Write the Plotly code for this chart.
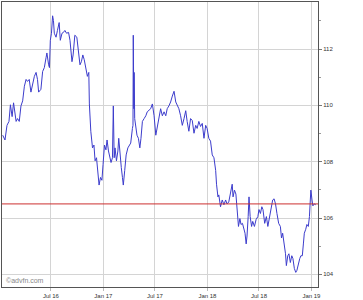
import pandas as pd
import plotly.graph_objects as go

# Data: days since 2016-01-01 and price
start_date = "2016-01-01"
days = [13, 21, 28, 35, 40, 46, 51, 56, 60, 65, 71, 77, 83, 89, 95, 100, 106, 112, 118, 124,
        130, 135, 139, 147, 153, 159, 165, 168, 174, 177, 180, 184, 188, 191, 194, 200, 205, 211, 215, 221,
        226, 231, 237, 244, 249, 252, 256, 260, 266, 273, 278, 284, 289, 294, 299, 305, 310, 315, 317, 322,
        328, 333, 337, 342, 347, 351, 356, 361, 365, 370, 375, 379, 384, 389, 393, 398, 401, 404, 407, 412,
        417, 420, 425, 429, 433, 436, 441, 446, 452, 456, 462, 468, 470, 471, 473, 474, 476, 480, 484, 489,
        494, 498, 503, 509, 515, 520, 526, 532, 538, 544, 550, 555, 561, 567, 573, 579, 585, 590, 596, 602,
        608, 614, 620, 625, 631, 637, 643, 649, 655, 660, 666, 672, 678, 684, 690, 695, 701, 707, 713, 719,
        725, 730, 736, 742, 748, 754, 760, 763, 768, 771, 777, 783, 789, 795, 800, 806, 812, 818, 821, 826,
        831, 835, 840, 845, 849, 854, 859, 863, 867, 870, 874, 877, 881, 886, 890, 896, 902, 908, 912, 917,
        922, 926, 932, 938, 943, 949, 954, 960, 965, 970, 975, 981, 987, 991, 995, 1000, 1005, 1008, 1013, 1017,
        1022, 1027, 1031, 1036, 1041, 1045, 1050, 1055, 1059, 1064, 1068, 1071, 1076, 1080, 1085, 1089, 1092, 1094, 1098, 1101,
        1106, 1111]
prices = [108.94, 108.77, 109.29, 109.43, 110.02, 109.60, 110.09, 109.77, 109.43, 109.53,
          109.43, 109.98, 110.16, 110.68, 110.92, 110.85, 110.92, 110.47, 110.75, 111.03,
          111.17, 110.92, 110.47, 110.57, 111.20, 111.34, 111.69, 111.86, 111.44, 111.34,
          112.31, 112.56, 113.18, 113.01, 112.56, 112.42, 112.66, 112.94, 112.31, 112.56,
          112.59, 112.66, 112.56, 112.59, 112.31, 112.07, 111.55, 111.79, 112.49, 112.42,
          111.97, 111.44, 111.55, 111.79, 111.62, 111.20, 111.03, 111.17, 110.05, 109.08,
          108.49, 108.59, 108.03, 108.14, 107.55, 107.17, 107.44, 107.34, 107.90, 108.59,
          108.42, 108.77, 108.38, 108.07, 107.97, 108.14, 109.98, 108.14, 108.49, 108.03,
          108.38, 108.83, 108.14, 107.79, 107.44, 107.17, 107.69, 108.24, 108.49, 108.56,
          108.66, 109.18, 109.29, 112.49, 109.88, 111.17, 109.53, 109.29, 108.94, 108.83,
          108.49, 108.83, 109.43, 109.53, 109.63, 109.77, 109.81, 109.88, 110.05, 109.63,
          108.94, 109.18, 109.53, 109.88, 109.63, 109.77, 109.63, 109.88, 109.98, 110.12,
          110.33, 110.50, 110.12, 109.98, 109.88, 109.63, 109.29, 109.53, 109.81, 109.43,
          109.08, 109.53, 109.46, 109.01, 109.29, 109.18, 109.43, 109.25, 109.36, 108.83,
          109.29, 109.18, 108.83, 108.73, 108.24, 108.14, 107.69, 107.20, 106.75, 106.82,
          106.40, 106.64, 106.47, 106.64, 106.50, 106.57, 106.92, 107.20, 106.75, 106.99,
          106.85, 106.40, 105.70, 105.98, 105.77, 105.81, 105.60, 105.46, 105.08, 105.36,
          106.05, 106.75, 106.05, 105.70, 105.88, 105.70, 105.95, 106.05, 106.30, 106.16,
          106.40, 106.30, 105.81, 106.05, 105.70, 106.05, 106.30, 106.64, 106.68, 106.50,
          106.16, 105.81, 105.70, 105.29, 105.46, 105.11, 104.73, 104.31, 104.66, 104.73,
          104.42, 104.66, 104.56, 104.21, 104.07, 104.14, 104.42, 104.56, 104.66, 104.66,
          105.11, 105.46, 105.60, 105.77, 105.70, 106.05, 106.64, 106.99, 106.64, 106.43,
          106.50, 106.47]
last_price = 106.5

x_tick_dates = ["2016-07-01", "2017-01-01", "2017-07-01", "2018-01-01", "2018-07-01", "2019-01-01"]
x_tick_labels = ["Jul 16", "Jan 17", "Jul 17", "Jan 18", "Jul 18", "Jan 19"]
y_ticks = [104, 106, 108, 110, 112]
y_minor = [105, 107, 109, 111, 113]
x_range = ["2016-01-11 12:00", "2019-01-24"]
y_range = [103.55, 113.67]

dates = pd.to_datetime(start_date) + pd.to_timedelta(days, unit="D")

fig = go.Figure()
fig.add_trace(go.Scatter(x=dates, y=prices, mode="lines",
                         line=dict(color="#3c3ccc", width=1), hoverinfo="skip"))
fig.add_hline(y=last_price, line=dict(color="#cc3030", width=1), layer="above")

fig.add_annotation(text="©advfn.com", xref="paper", yref="paper", x=0.005, y=0.005,
                   xanchor="left", yanchor="bottom", showarrow=False,
                   font=dict(family="Liberation Sans, Arial, sans-serif", size=7, color="#888888"))

fig.update_layout(
    width=363, height=300,
    margin=dict(l=1, r=45, t=1, b=8),
    paper_bgcolor="white", plot_bgcolor="white",
    showlegend=False,
    font=dict(family="Liberation Sans, Arial, sans-serif", size=6, color="#333333"),
)
fig.update_xaxes(type="date", range=x_range, tickvals=x_tick_dates, ticktext=x_tick_labels,
                 showgrid=True, gridcolor="#d4d4d4", gridwidth=1,
                 ticks="outside", ticklen=3, tickcolor="#bbbbbb",
                 showline=True, mirror=True, linecolor="#555555", linewidth=1,
                 tickfont=dict(size=6), zeroline=False)
fig.update_yaxes(side="right", range=y_range, tickvals=y_ticks,
                 ticktext=[str(v) for v in y_ticks],
                 showgrid=True, gridcolor="#d4d4d4", gridwidth=1,
                 ticks="outside", ticklen=3, tickcolor="#777777",
                 minor=dict(tickvals=y_minor, ticks="outside", ticklen=2, tickcolor="#999999", showgrid=False),
                 showline=True, mirror=True, linecolor="#555555", linewidth=1,
                 tickfont=dict(size=6), zeroline=False)

fig.write_html("out.html")
